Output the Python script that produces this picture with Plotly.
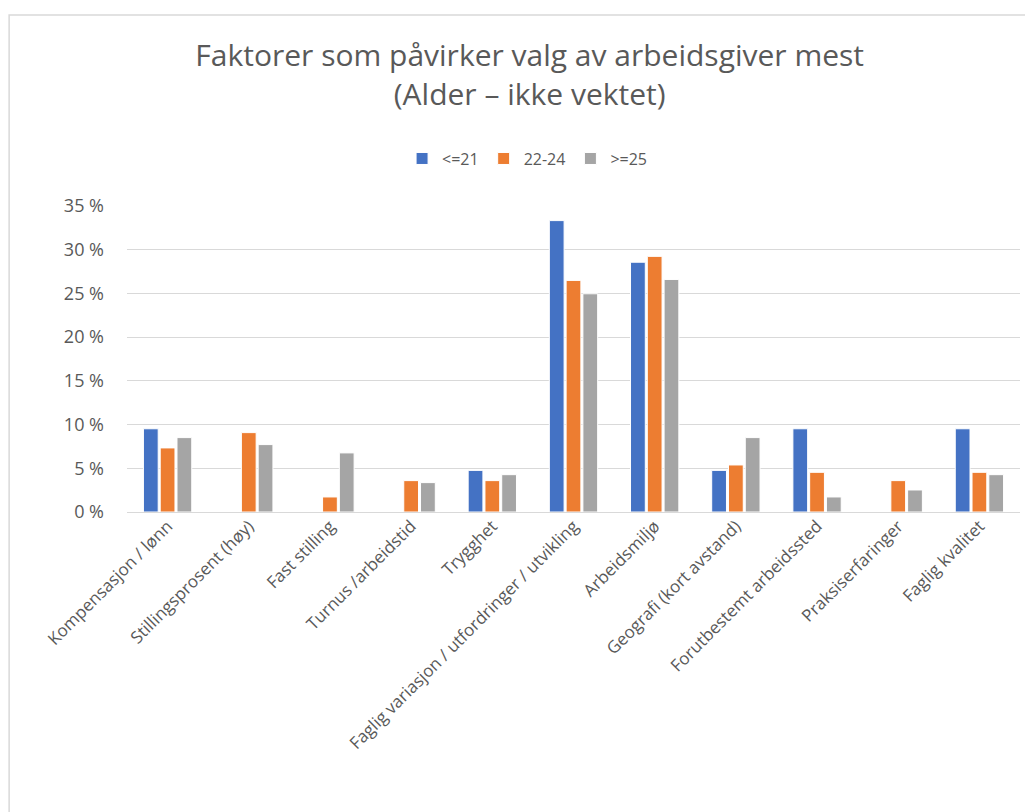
import plotly.graph_objects as go

categories = [
    "Kompensasjon / lønn",
    "Stillingsprosent (høy)",
    "Fast stilling",
    "Turnus /arbeidstid",
    "Trygghet",
    "Faglig variasjon / utfordringer / utvikling",
    "Arbeidsmiljø",
    "Geografi (kort avstand)",
    "Forutbestemt arbeidssted",
    "Praksiserfaringer",
    "Faglig kvalitet",
]
series_names = ["<=21", "22-24", ">=25"]
le21 = [9.52, 0, 0, 0, 4.76, 33.33, 28.57, 4.76, 9.52, 0, 9.52]
a22_24 = [7.33, 9.08, 1.72, 3.59, 3.59, 26.49, 29.24, 5.38, 4.54, 3.59, 4.54]
ge25 = [8.51, 7.71, 6.76, 3.36, 4.27, 24.96, 26.6, 8.51, 1.72, 2.52, 4.27]
colors = ["#4472C4", "#ED7D31", "#A5A5A5"]
y_ticks = [0, 5, 10, 15, 20, 25, 30, 35]
y_ticktext = ["0 %", "5 %", "10 %", "15 %", "20 %", "25 %", "30 %", "35 %"]

fig = go.Figure()
for name, vals, col in zip(series_names, [le21, a22_24, ge25], colors):
    fig.add_trace(go.Bar(
        name=name, x=categories, y=vals,
        marker=dict(color=col, line=dict(color="white", width=1)),
    ))

font_family = "Open Sans, Liberation Sans, sans-serif"
fig.update_layout(
    width=1033, height=812,
    paper_bgcolor="white", plot_bgcolor="white",
    margin=dict(l=119, r=21, t=198, b=308, autoexpand=False),
    barmode="group", bargap=0.38, bargroupgap=0.12,
    font=dict(family=font_family, color="#595959", size=16),
    title=dict(
        text="Faktorer som påvirker valg av arbeidsgiver mest<br>(Alder – ikke vektet)",
        x=0.505, xanchor="center", y=0.929, yanchor="top",
        font=dict(size=30, color="#595959", family=font_family),
    ),
    legend=dict(
        orientation="h", x=0.448, xanchor="center", y=1.155, yanchor="middle",
        font=dict(size=16, color="#595959"),
        traceorder="normal", itemwidth=30,
    ),
    xaxis=dict(
        tickangle=-45, showgrid=False, showline=False, automargin=False,
        tickfont=dict(size=17, color="#595959"),
    ),
    yaxis=dict(
        range=[0, 35], tickmode="array", tickvals=y_ticks, ticktext=y_ticktext,
        showgrid=True, gridcolor="#d9d9d9", gridwidth=1.3,
        zeroline=True, zerolinecolor="#d9d9d9", zerolinewidth=1.3,
        tickfont=dict(size=18, color="#595959"), automargin=False,
        ticklabelstandoff=22,
    ),
)
fig.add_shape(type="rect", xref="paper", yref="paper",
              x0=-0.132, x1=1.03, y0=-1.2, y1=1.624,
              line=dict(color="#d9d9d9", width=1.5), layer="below")
fig.write_html("out.html")
